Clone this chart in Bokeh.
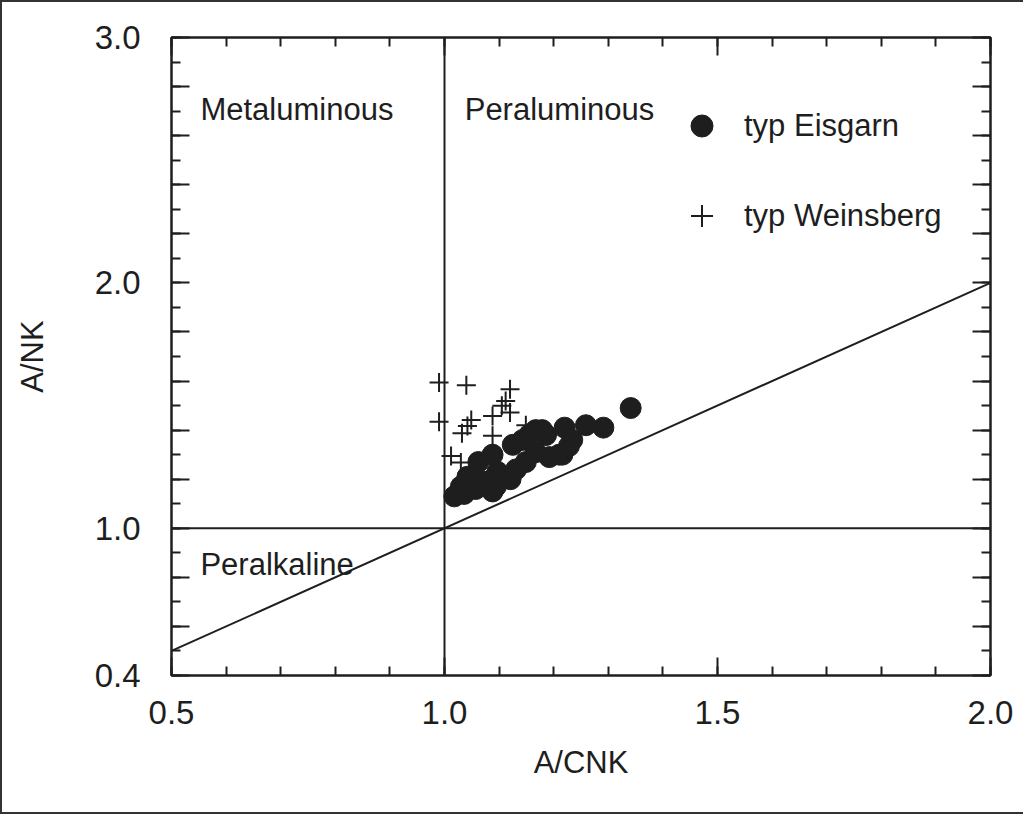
from bokeh.plotting import figure
from bokeh.models import (LinearAxis, FixedTicker, Span, Label, Legend,
                          LegendItem, Range1d)
from bokeh.embed import file_html
from bokeh.resources import INLINE

# ---------------- data ----------------
eisgarn_x = [1.018, 1.036, 1.030, 1.042, 1.057, 1.070, 1.088, 1.088, 1.094,
             1.062, 1.097, 1.088, 1.106, 1.121, 1.131, 1.149, 1.125, 1.143,
             1.155, 1.167, 1.179, 1.186, 1.167, 1.192, 1.210, 1.216, 1.220,
             1.234, 1.228, 1.259, 1.291, 1.341]
eisgarn_y = [1.13, 1.14, 1.17, 1.21, 1.16, 1.19, 1.15, 1.20, 1.17,
             1.27, 1.23, 1.30, 1.21, 1.20, 1.24, 1.27, 1.34, 1.36,
             1.38, 1.40, 1.40, 1.38, 1.31, 1.29, 1.30, 1.30, 1.41,
             1.36, 1.335, 1.42, 1.41, 1.49]

weinsberg_x = [0.990, 1.040, 1.120, 1.112, 1.105, 1.120, 0.990, 1.049,
               1.042, 1.032, 1.088, 1.088, 1.149, 1.012, 1.030]
weinsberg_y = [1.594, 1.583, 1.567, 1.519, 1.499, 1.472, 1.434, 1.441,
               1.417, 1.387, 1.458, 1.377, 1.420, 1.295, 1.268]

# boundary lines
diag_x = [0.5, 2.0]
diag_y = [0.5, 2.0]
boundary_acnk = 1.0
boundary_ank = 1.0

# axes ticks / labels
x_major = [0.5, 1.0, 1.5, 2.0]
x_minor = [round(0.5 + 0.1 * i, 1) for i in range(16)]
x_tick_labels = ["0.5", "1.0", "1.5", "2.0"]
y_major = [round(0.4 + 0.2 * i, 1) for i in range(14)]
y_minor = [round(0.4 + 0.1 * i, 1) for i in range(27)]
y_label_vals = [0.4, 1.0, 2.0, 3.0]
y_tick_labels = ["0.4", "1.0", "2.0", "3.0"]

series_names = ["typ Eisgarn", "typ Weinsberg"]
x_title = "A/CNK"
y_title = "A/NK"
field_labels = ["Metaluminous", "Peraluminous", "Peralkaline"]

FONT = "Liberation Sans"
INK = "#1e1e1e"

# ---------------- figure ----------------
p = figure(width=1023, height=814,
           x_range=Range1d(0.5, 2.0), y_range=Range1d(0.4, 3.0),
           output_backend="svg", toolbar_location=None,
           x_axis_location=None, y_axis_location=None,
           min_border_left=169, min_border_top=35,
           min_border_right=35, min_border_bottom=141)
p.xgrid.visible = False
p.ygrid.visible = False
p.outline_line_color = INK
p.outline_line_width = 2
p.background_fill_color = "white"
p.border_fill_color = "white"
p.styles = {"border-left": "2px solid #333", "border-top": "2px solid #333",
            "border-bottom": "2px solid #333"}


def style_axis(ax, show_labels):
    ax.axis_line_color = INK
    ax.axis_line_width = 2
    ax.major_tick_line_color = INK
    ax.minor_tick_line_color = INK
    ax.major_tick_line_width = 2
    ax.minor_tick_line_width = 2
    ax.major_tick_in = 18
    ax.major_tick_out = 0
    ax.minor_tick_in = 9
    ax.minor_tick_out = 0
    ax.major_label_text_font = FONT
    ax.major_label_text_font_size = "33px"
    ax.axis_label_text_font = FONT
    ax.axis_label_text_font_size = "31px"
    ax.axis_label_text_font_style = "normal"
    ax.axis_label_text_color = INK
    if show_labels:
        ax.major_label_text_color = INK
    else:
        ax.major_label_text_color = None
        ax.major_label_standoff = 0


x_ticker = FixedTicker(ticks=x_major, minor_ticks=x_minor)
y_ticker = FixedTicker(ticks=y_major, minor_ticks=y_minor)
y_label_ticker = FixedTicker(ticks=y_label_vals, minor_ticks=[])

x_over = {v: t for v, t in zip(x_major, x_tick_labels)}
y_over = {v: t for v, t in zip(y_label_vals, y_tick_labels)}

# bottom axis (ticks + labels)
xb = LinearAxis(ticker=x_ticker, axis_label=x_title,
                major_label_overrides=x_over)
style_axis(xb, True)
xb.major_label_standoff = 25
xb.axis_label_standoff = 18
p.add_layout(xb, "below")

# top axis (ticks only)
xt = LinearAxis(ticker=x_ticker)
style_axis(xt, False)
p.add_layout(xt, "above")

# left: inner axis with all ticks, outer axis with the labels only
yl_ticks = LinearAxis(ticker=y_ticker)
style_axis(yl_ticks, False)
p.add_layout(yl_ticks, "left")

yl = LinearAxis(ticker=y_label_ticker, axis_label=y_title,
                major_label_overrides=y_over)
style_axis(yl, True)
yl.axis_line_color = None
yl.major_tick_in = 0
yl.minor_tick_in = 0
yl.major_label_standoff = 31
yl.axis_label_standoff = 42
p.add_layout(yl, "left")

# right axis (ticks only)
yr = LinearAxis(ticker=y_ticker)
style_axis(yr, False)
p.add_layout(yr, "right")

# boundary lines
p.add_layout(Span(location=boundary_acnk, dimension="height",
                  line_color=INK, line_width=2))
p.add_layout(Span(location=boundary_ank, dimension="width",
                  line_color=INK, line_width=2))
p.line(diag_x, diag_y, line_color=INK, line_width=2)

# data
r_eis = p.scatter(eisgarn_x, eisgarn_y, marker="circle", size=21,
                  fill_color=INK, line_color=INK, line_width=1)
r_wei = p.scatter(weinsberg_x, weinsberg_y, marker="cross", size=19,
                  line_color=INK, line_width=2)

# field labels
label_pos = [(0.553, 2.706), (1.037, 2.706), (0.553, 0.852)]
for (lx, ly), txt in zip(label_pos, field_labels):
    p.add_layout(Label(x=lx, y=ly, text=txt, text_font=FONT,
                       text_font_size="31px", text_color=INK,
                       text_baseline="alphabetic", text_align="left"))

legend = Legend(items=[LegendItem(label=series_names[0], renderers=[r_eis]),
                       LegendItem(label=series_names[1], renderers=[r_wei])],
                location=(503, 432))
legend.border_line_color = None
legend.background_fill_alpha = 0
legend.glyph_width = 55
legend.glyph_height = 55
legend.label_standoff = 15
legend.spacing = 35
legend.padding = 0
legend.margin = 0
legend.label_text_font = FONT
legend.label_text_font_size = "31px"
legend.label_text_color = INK
legend.label_text_baseline = "middle"
p.add_layout(legend, "center")

open("out.html", "w").write(file_html(p, INLINE))
